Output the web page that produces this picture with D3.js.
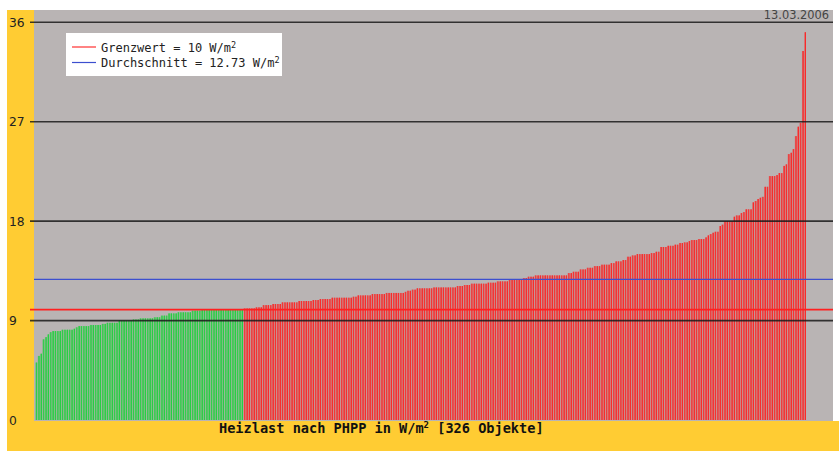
<!DOCTYPE html>
<html>
<head>
<meta charset="utf-8">
<script src="https://cdn.jsdelivr.net/npm/d3@7"></script>
<style>
  html, body { margin: 0; padding: 0; background: #fff; }
  svg { display: block; }
</style>
</head>
<body>
<div id="app"></div>
<script>
// Heizlast values (W/m²), sorted ascending, one per object
const heizlast = [
  5.2, 5.8, 6.0, 7.3, 7.5, 7.75, 7.95, 8.05, 8.05, 8.05,
  8.05, 8.17, 8.17, 8.17, 8.17, 8.17, 8.26, 8.39, 8.5, 8.5,
  8.5, 8.5, 8.5, 8.6, 8.6, 8.6, 8.6, 8.6, 8.7, 8.7,
  8.8, 8.8, 8.8, 8.8, 8.8, 9.0, 9.0, 9.0, 9.0, 9.0,
  9.0, 9.1, 9.1, 9.1, 9.2, 9.2, 9.2, 9.2, 9.2, 9.2,
  9.3, 9.3, 9.3, 9.45, 9.45, 9.45, 9.65, 9.65, 9.65, 9.65,
  9.75, 9.75, 9.75, 9.75, 9.75, 9.75, 9.9, 9.9, 9.9, 9.9,
  9.98, 9.98, 9.98, 9.98, 9.98, 9.98, 9.98, 9.98, 9.98, 9.98,
  9.98, 9.98, 9.98, 9.98, 9.98, 9.98, 9.98, 9.98,
  10.1, 10.1, 10.1, 10.1, 10.1, 10.2, 10.2, 10.2, 10.4, 10.4,
  10.4, 10.4, 10.5, 10.5, 10.5, 10.5, 10.65, 10.65, 10.65, 10.65,
  10.65, 10.65, 10.65, 10.77, 10.77, 10.77, 10.77, 10.77, 10.77, 10.86,
  10.86, 10.86, 10.95, 10.95, 10.95, 10.95, 10.95, 11.07, 11.07, 11.07,
  11.07, 11.07, 11.07, 11.07, 11.07, 11.07, 11.16, 11.16, 11.28, 11.28,
  11.28, 11.28, 11.28, 11.28, 11.4, 11.4, 11.4, 11.4, 11.4, 11.4,
  11.5, 11.5, 11.5, 11.5, 11.5, 11.5, 11.5, 11.5, 11.6, 11.7,
  11.7, 11.8, 11.8, 11.92, 11.92, 11.92, 11.92, 11.92, 11.92, 11.92,
  12.0, 12.0, 12.0, 12.0, 12.0, 12.0, 12.0, 12.0, 12.0, 12.0,
  12.13, 12.13, 12.13, 12.22, 12.22, 12.22, 12.34, 12.34, 12.34, 12.34,
  12.34, 12.34, 12.34, 12.43, 12.43, 12.43, 12.43, 12.55, 12.55, 12.55,
  12.55, 12.55, 12.7, 12.7, 12.7, 12.7, 12.7, 12.7, 12.85, 12.85,
  12.97, 12.97, 12.97, 13.09, 13.09, 13.09, 13.09, 13.09, 13.09, 13.09,
  13.09, 13.09, 13.09, 13.09, 13.09, 13.09, 13.09, 13.3, 13.3, 13.42,
  13.42, 13.42, 13.63, 13.63, 13.63, 13.78, 13.78, 13.78, 13.93, 13.93,
  13.93, 14.06, 14.06, 14.06, 14.06, 14.2, 14.2, 14.36, 14.36, 14.36,
  14.48, 14.48, 14.78, 14.78, 14.9, 14.9, 15.02, 15.02, 15.02, 15.02,
  15.02, 15.02, 15.11, 15.11, 15.23, 15.23, 15.66, 15.66, 15.66, 15.77,
  15.77, 15.77, 15.87, 15.87, 16.02, 16.02, 16.08, 16.08, 16.2, 16.29,
  16.29, 16.29, 16.38, 16.38, 16.38, 16.53, 16.71, 16.83, 16.95,
  17.04, 17.04, 17.56, 17.68, 17.98, 17.98, 17.98, 17.98, 18.4, 18.52,
  18.52, 18.73, 18.82, 19.07, 19.07, 19.07, 19.7, 19.82, 20.0, 20.12,
  20.2, 21.11, 21.11, 22.08, 22.08, 22.08, 22.17, 22.35, 22.35, 23.0,
  23.14, 24.07, 24.19, 24.52, 25.7, 26.55, 26.9, 33.4, 35.1
];

const yTicks = [0, 9, 18, 27, 36];
const grenzwert = 10;
const durchschnitt = 12.73;
const dateLabel = '13.03.2006';
const xTitle = 'Heizlast nach PHPP in W/m';
const xTitleTail = ' [326 Objekte]';

const width = 839;
const height = 451;
const plot = { left: 34, top: 10, right: 833, bottom: 421 };

const svg = d3.select('#app').append('svg')
  .attr('width', width)
  .attr('height', height);

// frame: yellow margin, grey plot area
svg.append('rect')
  .attr('x', 7).attr('y', 10)
  .attr('width', width - 7).attr('height', height - 10)
  .attr('fill', '#ffcc33');

svg.append('rect')
  .attr('x', plot.left).attr('y', plot.top)
  .attr('width', plot.right - plot.left).attr('height', plot.bottom - plot.top)
  .attr('fill', '#b9b4b4');

svg.append('rect')
  .attr('x', plot.right).attr('y', 0)
  .attr('width', width - plot.right).attr('height', plot.bottom)
  .attr('fill', '#fff');

const x = d3.scaleBand()
  .domain(d3.range(heizlast.length))
  .range([35.5, 806])
  .paddingInner(0.3)
  .paddingOuter(0);

const y = d3.scaleLinear()
  .domain([0, 36])
  .range([420, 22.3]);

const bars = svg.append('g')
  .selectAll('g')
  .data(heizlast)
  .join('g');

bars.append('rect')
  .attr('x', (d, i) => x(i))
  .attr('y', d => y(d))
  .attr('width', x.bandwidth())
  .attr('height', d => y(0) - y(d))
  .attr('fill', d => d <= grenzwert ? '#5cc266' : '#e05a5a');

bars.append('rect')
  .attr('x', (d, i) => x(i) + x.bandwidth() - 0.8)
  .attr('y', d => y(d))
  .attr('width', 0.8)
  .attr('height', d => y(0) - y(d))
  .attr('fill', d => d <= grenzwert ? '#16d43a' : '#ff1e1e');

// horizontal grid lines (on top of the bars)
svg.append('g')
  .selectAll('line')
  .data(yTicks.filter(t => t > 0))
  .join('line')
  .attr('x1', 30).attr('x2', plot.right)
  .attr('y1', d => y(d)).attr('y2', d => y(d))
  .attr('stroke', '#1a1a1a')
  .attr('stroke-opacity', 0.85)
  .attr('stroke-width', 1.6);

svg.append('g')
  .selectAll('text')
  .data(yTicks)
  .join('text')
  .attr('x', 9)
  .attr('y', d => y(d) + 4.5)
  .attr('font-family', 'DejaVu Sans, sans-serif')
  .attr('font-size', 12.3)
  .attr('fill', '#222')
  .text(d => d);

// limit and average lines
svg.append('line')
  .attr('x1', 30).attr('x2', plot.right)
  .attr('y1', y(grenzwert)).attr('y2', y(grenzwert))
  .attr('stroke', '#ff2020')
  .attr('stroke-width', 1.8);

svg.append('line')
  .attr('x1', plot.left).attr('x2', plot.right)
  .attr('y1', y(durchschnitt)).attr('y2', y(durchschnitt))
  .attr('stroke', '#3c4fcf')
  .attr('stroke-width', 1.3);

// legend
const legend = svg.append('g');
legend.append('rect')
  .attr('x', 66).attr('y', 33)
  .attr('width', 216).attr('height', 43)
  .attr('fill', '#fff');

const legendItems = [
  { label: 'Grenzwert = ' + grenzwert + ' W/m', color: '#ff3030', ly: 47, ty: 51.5 },
  { label: 'Durchschnitt = ' + durchschnitt + ' W/m', color: '#3c4fcf', ly: 62.5, ty: 67 }
];

legendItems.forEach(item => {
  legend.append('line')
    .attr('x1', 72).attr('x2', 96)
    .attr('y1', item.ly).attr('y2', item.ly)
    .attr('stroke', item.color)
    .attr('stroke-width', 1.2);
  const t = legend.append('text')
    .attr('x', 101).attr('y', item.ty)
    .attr('font-family', 'DejaVu Sans Mono, monospace')
    .attr('font-size', 12)
    .attr('fill', '#222')
    .text(item.label);
  t.append('tspan')
    .attr('dy', -4)
    .attr('font-size', 8.5)
    .text('2');
});

// date, top right
svg.append('text')
  .attr('x', 829).attr('y', 18.5)
  .attr('text-anchor', 'end')
  .attr('font-family', 'DejaVu Sans, sans-serif')
  .attr('font-size', 11.4)
  .attr('fill', '#444')
  .text(dateLabel);

// x title
const title = svg.append('text')
  .attr('x', 219).attr('y', 433)
  .attr('font-family', 'DejaVu Sans Mono, monospace')
  .attr('font-weight', 'bold')
  .attr('font-size', 13.6)
  .attr('fill', '#111')
  .text(xTitle);
title.append('tspan')
  .attr('dy', -5)
  .attr('font-size', 9)
  .text('2');
title.append('tspan')
  .attr('dy', 5)
  .text(xTitleTail);
</script>
</body>
</html>
